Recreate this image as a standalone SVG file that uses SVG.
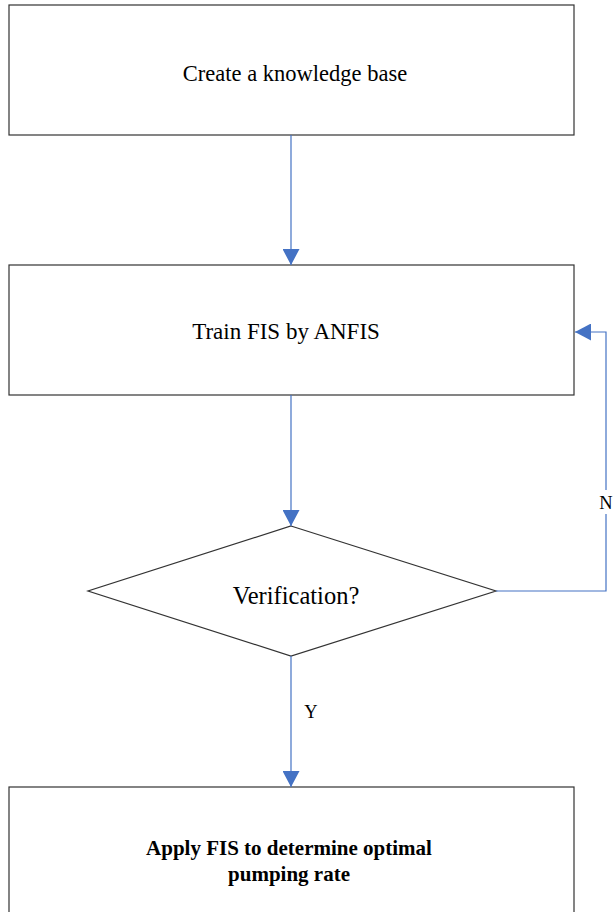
<svg xmlns="http://www.w3.org/2000/svg" width="616" height="912" viewBox="0 0 616 912">
  <style>
    .box { fill: #ffffff; stroke: #333333; stroke-width: 1.2; }
    .lbl { font-family: "Liberation Serif", "Times New Roman", serif; fill: #000000; text-anchor: middle; }
    .edge { fill: none; stroke: #4472C4; stroke-width: 1.2; }
  </style>
  <defs>
    <marker id="arrow" viewBox="0 0 16 17" refX="16" refY="8.5" markerWidth="16" markerHeight="17" markerUnits="userSpaceOnUse" orient="auto">
      <path d="M0,0 L16,8.5 L0,17 Z" fill="#4472C4"/>
    </marker>
  </defs>
  <rect width="616" height="912" fill="#ffffff"/>

  <g id="node-knowledge">
    <rect class="box" x="9" y="5" width="565" height="130"/>
    <text class="lbl" x="295" y="81" font-size="22.5">Create a knowledge base</text>
  </g>

  <g id="node-train">
    <rect class="box" x="9" y="265" width="565" height="130"/>
    <text class="lbl" x="286" y="339" font-size="23">Train FIS by ANFIS</text>
  </g>

  <g id="node-verify">
    <polygon class="box" points="291,526 496,591 291,656 88,591"/>
    <text class="lbl" x="296" y="604" font-size="24.5">Verification?</text>
  </g>

  <g id="node-apply">
    <rect class="box" x="9" y="787" width="565" height="140"/>
    <text class="lbl" x="289" y="855" font-size="21" font-weight="bold">Apply FIS to determine optimal</text>
    <text class="lbl" x="289" y="881" font-size="21" font-weight="bold">pumping rate</text>
  </g>

  <g id="connectors">
    <line class="edge" x1="291" y1="135" x2="291" y2="265" marker-end="url(#arrow)"/>
    <line class="edge" x1="291" y1="395" x2="291" y2="526" marker-end="url(#arrow)"/>
    <line class="edge" x1="291" y1="656" x2="291" y2="787" marker-end="url(#arrow)"/>
    <polyline class="edge" points="496,591 606,591 606,332 575,332" marker-end="url(#arrow)"/>
    <rect x="596" y="490" width="20" height="24" fill="#ffffff"/>
    <text class="lbl" x="606" y="509" font-size="18.5">N</text>
    <text class="lbl" x="311" y="718" font-size="18.5">Y</text>
  </g>
</svg>
